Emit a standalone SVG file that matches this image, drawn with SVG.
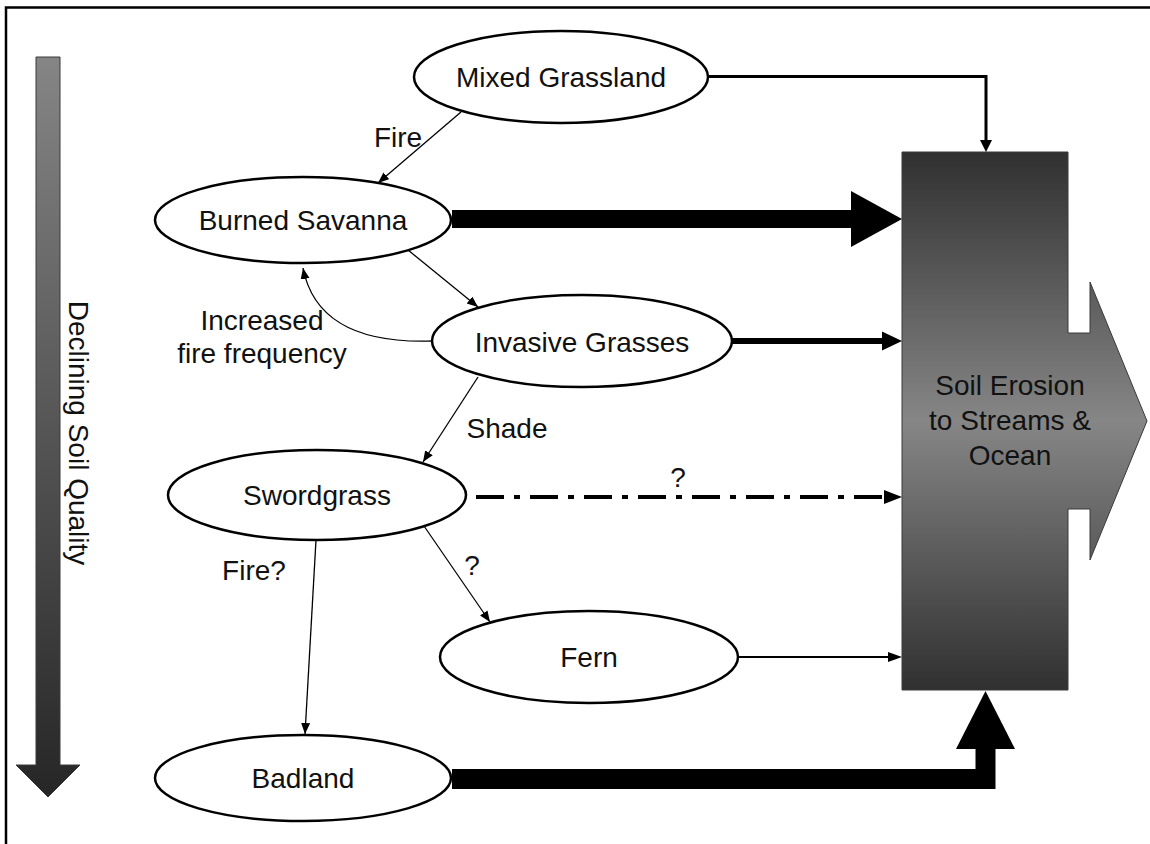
<svg xmlns="http://www.w3.org/2000/svg" width="1150" height="844" viewBox="0 0 1150 844">
  <defs>
    <linearGradient id="gLeft" x1="0" y1="0" x2="0" y2="1">
      <stop offset="0" stop-color="#858585"/>
      <stop offset="1" stop-color="#262626"/>
    </linearGradient>
    <linearGradient id="gBox" x1="0" y1="0" x2="0" y2="1">
      <stop offset="0" stop-color="#303030"/>
      <stop offset="0.5" stop-color="#868686"/>
      <stop offset="1" stop-color="#303030"/>
    </linearGradient>
    <marker id="ah" markerUnits="userSpaceOnUse" markerWidth="12" markerHeight="10" refX="11" refY="4.5" orient="auto">
      <path d="M0,0 L11,4.5 L0,9 z" fill="#000"/>
    </marker>
  </defs>
  <style>
    text { font-family: "Liberation Sans", Arial, sans-serif; font-size: 28px; fill: #111; }
    .node ellipse { fill: #fff; stroke: #000; stroke-width: 2.5; }
    .thin { fill: none; stroke: #000; stroke-width: 1.3; marker-end: url(#ah); }
    .lbl { text-anchor: middle; }
  </style>
  <rect width="1150" height="844" fill="#fff"/>
  <path d="M6,844 V7.5 H1150" fill="none" stroke="#000" stroke-width="2.5"/>

  <g id="soil-quality-arrow">
    <path d="M36,57 H60 V765 H80 L48,797 L16,765 H36 Z" fill="url(#gLeft)" stroke="#3a3a3a" stroke-width="1"/>
    <text transform="translate(69,433) rotate(90)" text-anchor="middle">Declining Soil Quality</text>
  </g>

  <g id="soil-erosion">
    <path d="M902,152 H1068 V333 H1090 V282 L1147,421 L1090,560 V509 H1068 V690 H902 Z" fill="url(#gBox)" stroke="#3a3a3a" stroke-width="1"/>
    <text class="lbl" x="1010" y="395">Soil Erosion</text>
    <text class="lbl" x="1010" y="430">to Streams &amp;</text>
    <text class="lbl" x="1010" y="465">Ocean</text>
  </g>

  <g id="connectors">
    <!-- Mixed Grassland to erosion -->
    <path d="M708,76.5 H986 V140" fill="none" stroke="#000" stroke-width="3"/>
    <path d="M980,140 L992,140 L986,152 Z" fill="#000"/>
    <!-- Fire -->
    <path class="thin" d="M461,112 L378,183"/>
    <text class="lbl" x="398" y="147">Fire</text>
    <!-- Burned Savanna to erosion -->
    <path d="M452,219 H852" fill="none" stroke="#000" stroke-width="18"/>
    <path d="M851,191 L902,219 L851,247 Z" fill="#000"/>
    <!-- Burned Savanna to Invasive -->
    <path class="thin" d="M408,250 L478,307"/>
    <!-- Increased fire frequency -->
    <path class="thin" d="M433,341 Q318,345 303,268"/>
    <text class="lbl" x="262" y="330">Increased</text>
    <text class="lbl" x="262" y="363">fire frequency</text>
    <!-- Invasive to erosion -->
    <path d="M732,341 H884" fill="none" stroke="#000" stroke-width="6"/>
    <path d="M882,331.5 L902,341 L882,350.5 Z" fill="#000"/>
    <!-- Shade -->
    <path class="thin" d="M478,377 L423,462"/>
    <text class="lbl" x="507" y="438">Shade</text>
    <!-- Swordgrass to erosion dash-dot -->
    <path d="M476,497 H886" fill="none" stroke="#000" stroke-width="4" stroke-dasharray="28 10 6 10"/>
    <path d="M884,490 L902,497 L884,504 Z" fill="#000"/>
    <text class="lbl" x="678" y="487">?</text>
    <!-- Swordgrass to Fern -->
    <path class="thin" d="M424,526 L490,622"/>
    <text class="lbl" x="472" y="575">?</text>
    <!-- Swordgrass to Badland -->
    <path class="thin" d="M316,540 L305,734"/>
    <text class="lbl" x="254" y="580">Fire?</text>
    <!-- Fern to erosion -->
    <path d="M738,657 H890" fill="none" stroke="#000" stroke-width="2"/>
    <path d="M888,652 L902,657 L888,662 Z" fill="#000"/>
    <!-- Badland to erosion -->
    <path d="M452,779 H985.5 V748" fill="none" stroke="#000" stroke-width="20" stroke-linejoin="miter"/>
    <path d="M956,749 L1015,749 L985.5,691 Z" fill="#000"/>
  </g>

  <g id="mixed-grassland" class="node">
    <ellipse cx="561" cy="77" rx="147" ry="46"/>
    <text class="lbl" x="561" y="87">Mixed Grassland</text>
  </g>
  <g id="burned-savanna" class="node">
    <ellipse cx="303" cy="220" rx="148" ry="43"/>
    <text class="lbl" x="303" y="230">Burned Savanna</text>
  </g>
  <g id="invasive-grasses" class="node">
    <ellipse cx="582" cy="341" rx="150" ry="46"/>
    <text class="lbl" x="582" y="352">Invasive Grasses</text>
  </g>
  <g id="swordgrass" class="node">
    <ellipse cx="317" cy="495" rx="149" ry="45"/>
    <text class="lbl" x="317" y="505">Swordgrass</text>
  </g>
  <g id="fern" class="node">
    <ellipse cx="589" cy="657" rx="149" ry="46"/>
    <text class="lbl" x="589" y="667">Fern</text>
  </g>
  <g id="badland" class="node">
    <ellipse cx="303" cy="778" rx="148" ry="43"/>
    <text class="lbl" x="303" y="788">Badland</text>
  </g>
</svg>
